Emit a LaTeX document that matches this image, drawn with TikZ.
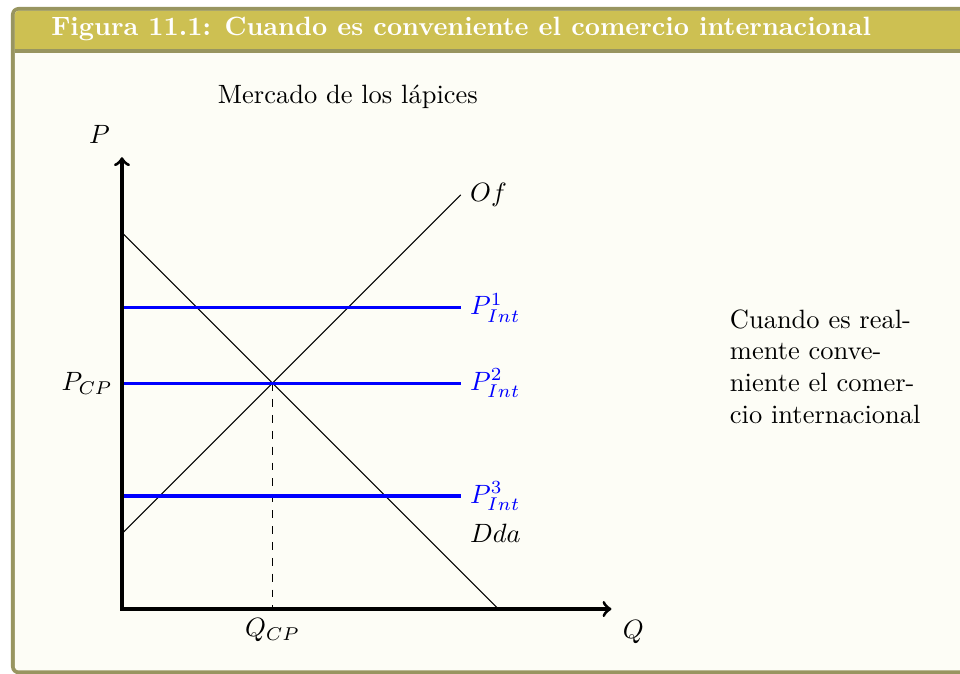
\documentclass[tikz,border=0pt]{standalone}
\usepackage{tikz}
\definecolor{frameC}{RGB}{152,149,96}
\definecolor{titleC}{RGB}{205,192,82}
\definecolor{backC}{RGB}{253,253,246}
\tikzset{
  axis/.style={very thick,<->},
  curve/.style={black},
  pline/.style={blue,very thick},
  plabel/.style={right,text=blue},
}
\begin{document}
\begin{tikzpicture}
\useasboundingbox (-1.620,-0.850) rectangle (11.129,8.088);
% box
\fill[frameC, rounded corners=0.1cm] (-1.474,-0.866) rectangle (11.6,7.995);
\fill[backC, rounded corners=0.05cm] (-1.424,-0.816) rectangle (11.55,7.945);
\begin{scope}
  \clip[rounded corners=0.05cm] (-1.424,-0.816) rectangle (11.55,7.945);
  \fill[titleC] (-1.5,7.437) rectangle (11.6,8);
  \fill[frameC] (-1.5,7.39) rectangle (11.6,7.437);
\end{scope}
\node[anchor=west, text=white, font=\bfseries] (title) at (-1.063,7.70)
  {Figura 11.1: Cuando es conveniente el comercio internacional};
% coordinates
\coordinate (O) at (0,0);
\coordinate (Ytop) at (0,6);
\coordinate (Xend) at (6.5,0);
\coordinate (D1) at (0,5);
\coordinate (D2) at (5,0);
\coordinate (S1) at (0,1);
\coordinate (S2) at (4.5,5.5);
\coordinate (E) at (2,3);
\coordinate (EQ) at (2,0);
\coordinate (A1) at (0,4);
\coordinate (B1) at (4.5,4);
\coordinate (A2) at (0,3);
\coordinate (B2) at (4.5,3);
\coordinate (A3) at (0,1.5);
\coordinate (B3) at (4.5,1.5);
% curves
\draw[curve] (D1) -- (D2);
\draw[curve] (S1) -- (S2);
\node[right] (of) at (S2) {$Of$};
\node[right] (dda) at (4.5,1) {$Dda$};
\draw[dashed] (E) -- (EQ);
\draw[pline] (A1) -- (B1);
\draw[pline] (A2) -- (B2);
\draw[pline] (A3) -- (B3);
\node[plabel] (p1) at (B1) {$P^1_{Int}$};
\node[plabel] (p2) at (B2) {$P^2_{Int}$};
\node[plabel] (p3) at (B3) {$P^3_{Int}$};
\draw[axis] (Ytop) -- (O) -- (Xend);
\node (P) at (-0.3,6.3) {$P$};
\node (Q) at (6.79,-0.305) {$Q$};
\node[left] (pcp) at (A2) {$P_{CP}$};
\node[below] (qcp) at (EQ) {$Q_{CP}$};
\node (mt) at (3,6.8) {Mercado de los lápices};
\node[anchor=west, align=left] (txt) at (7.95,3.22)
  {Cuando es real-\\mente conve-\\niente el comer-\\cio internacional};
\end{tikzpicture}
\end{document}
